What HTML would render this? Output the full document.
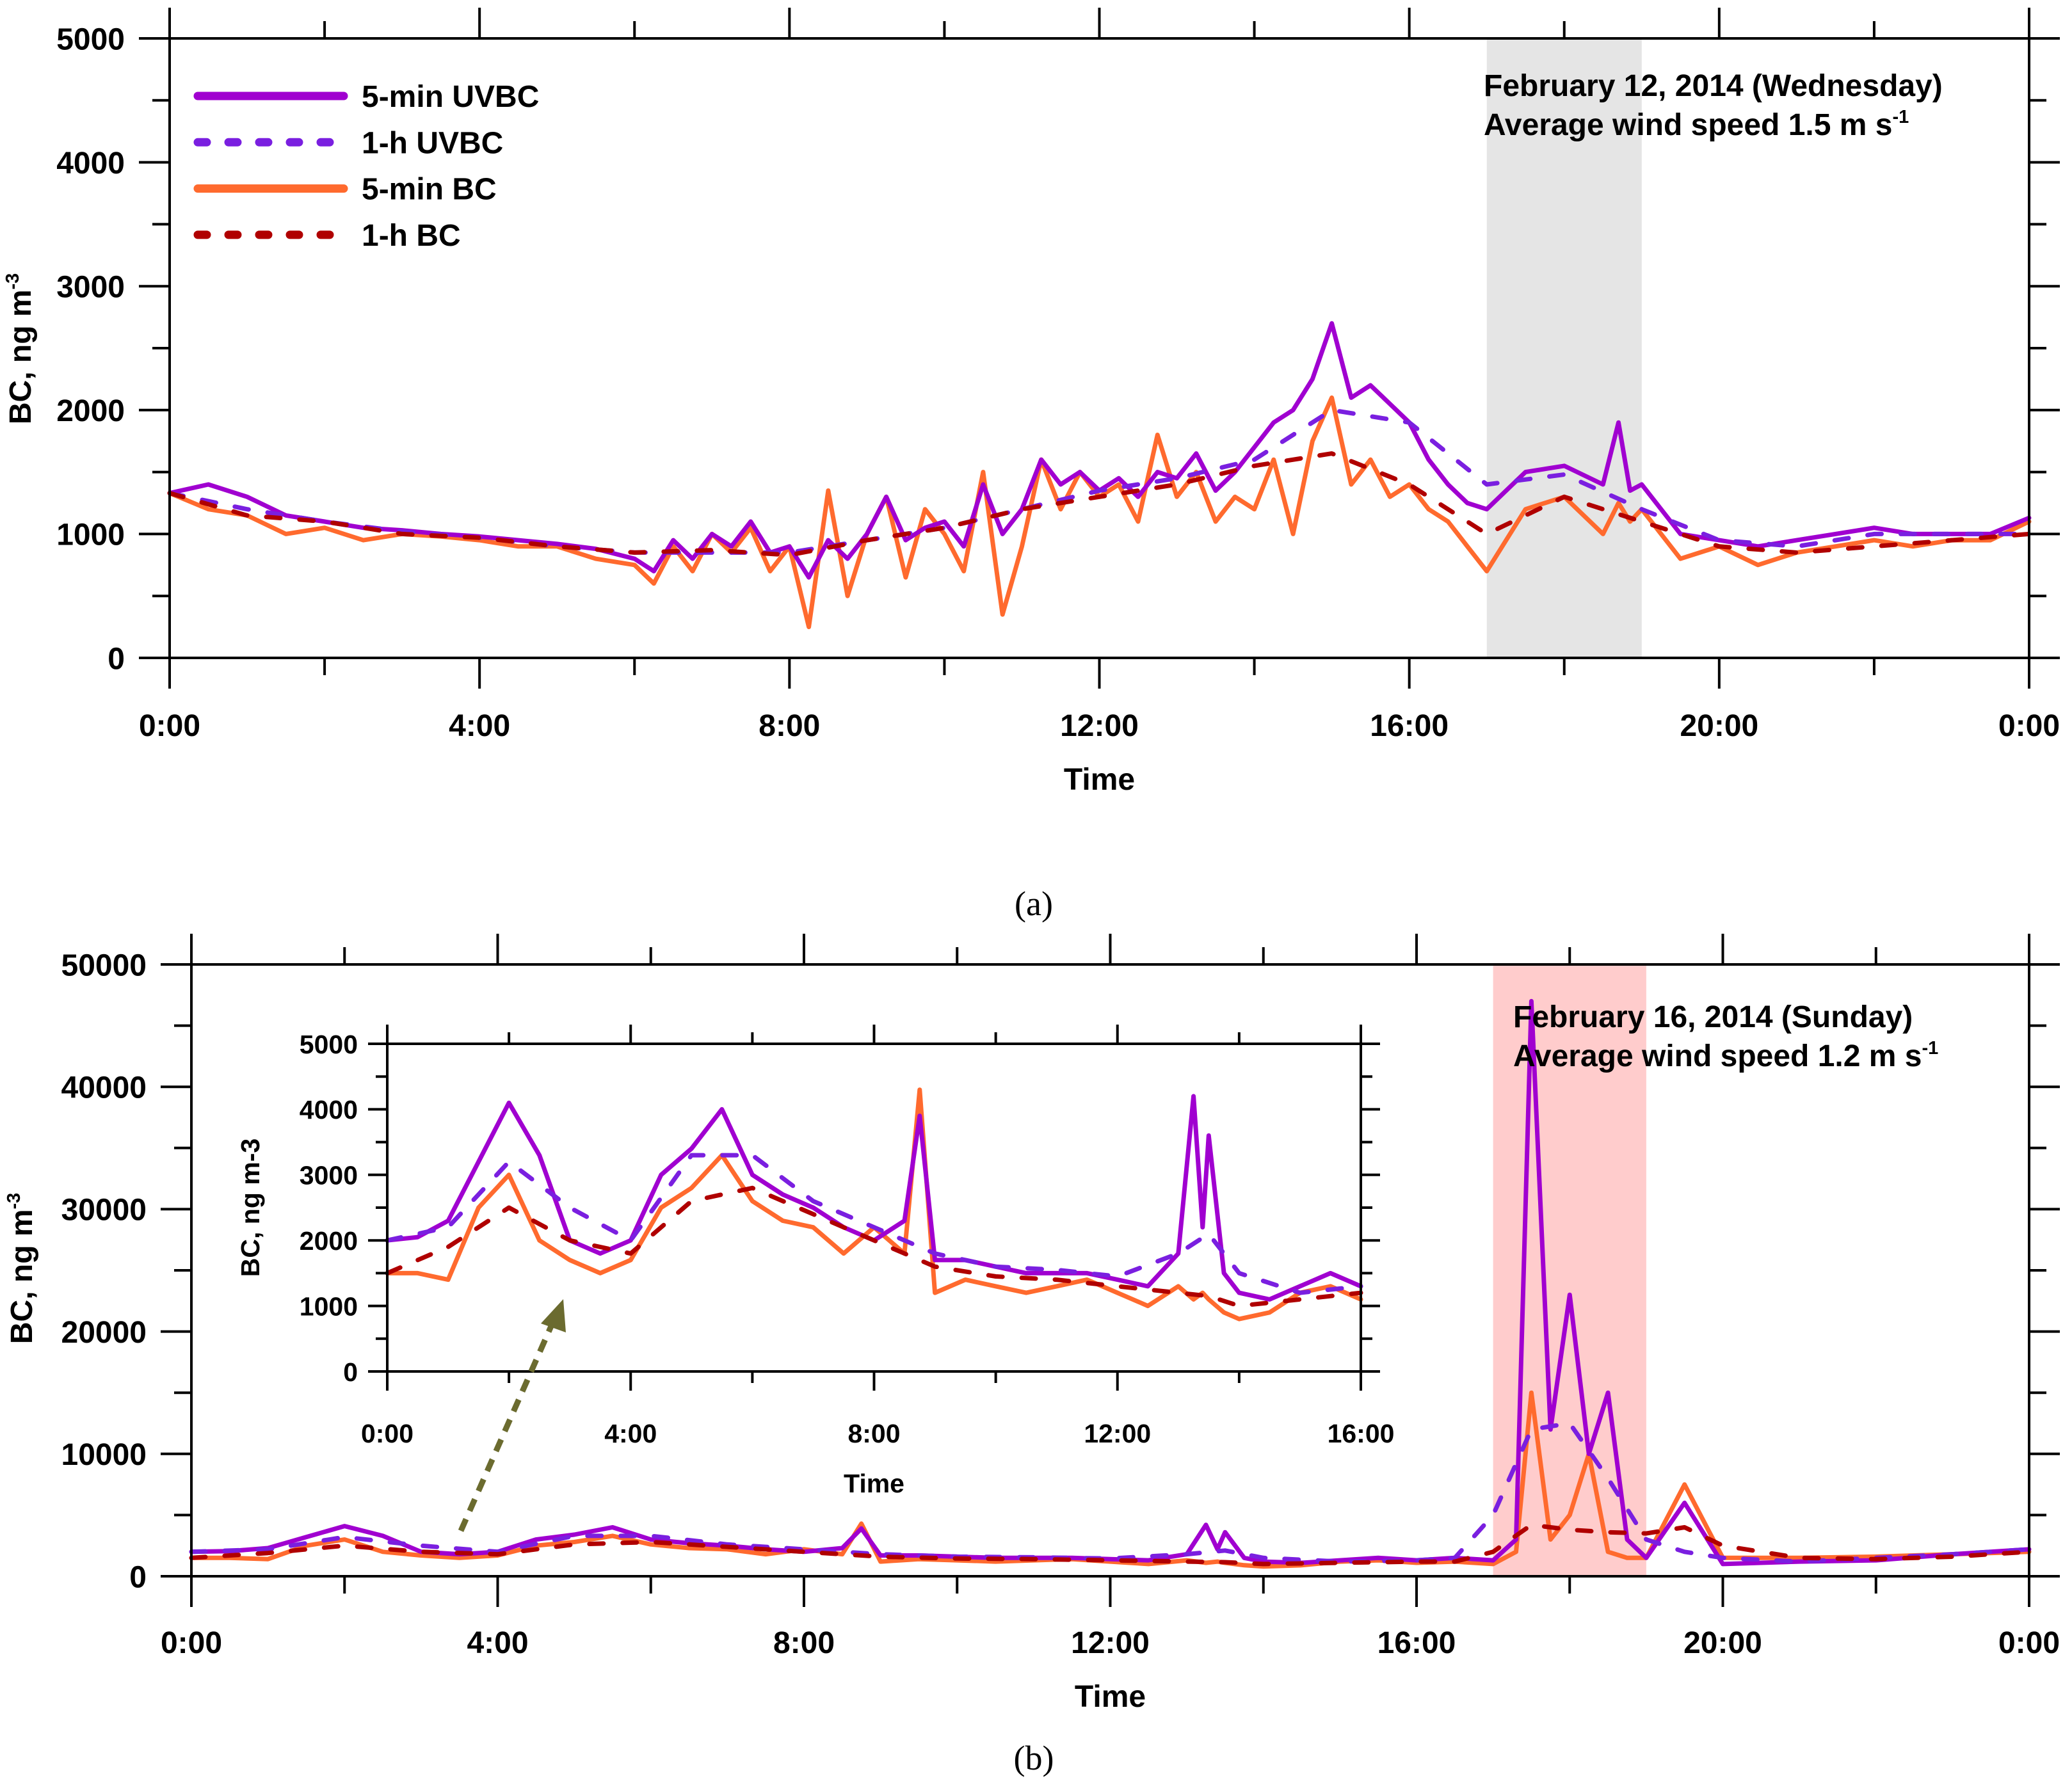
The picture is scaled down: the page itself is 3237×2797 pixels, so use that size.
<!DOCTYPE html>
<html><head><meta charset="utf-8"><style>
body{margin:0;background:#fff}
svg{display:block}
text{font-family:"Liberation Sans",Arial,sans-serif;font-weight:bold;fill:#000}
</style></head><body>
<svg id="chart" width="3237" height="2797" viewBox="0 0 3237 2797" xmlns="http://www.w3.org/2000/svg"></svg>
<script>
// ---------- Panel (a) data ----------
const aT5 = [0,0.5,1,1.5,2,2.5,3,3.5,4,4.5,5,5.5,
 6,6.25,6.5,6.75,7,7.25,7.5,7.75,8,8.25,8.5,8.75,9,9.25,9.5,9.75,10,10.25,10.5,10.75,11,11.25,11.5,11.75,12,12.25,12.5,12.75,13,13.25,13.5,13.75,14,14.25,14.5,14.75,15,15.25,15.5,15.75,16,16.25,16.5,16.75,17,
 17.5,18,18.5,18.7,18.85,19,19.5,20,20.5,21,21.5,22,22.5,23,23.5,24];
const aUV5 = [1330,1400,1300,1150,1100,1050,1030,1000,980,950,920,880,
 800,700,950,800,1000,900,1100,850,900,650,950,800,1000,1300,950,1050,1100,900,1400,1000,1200,1600,1400,1500,1350,1450,1300,1500,1450,1650,1350,1500,1700,1900,2000,2250,2700,2100,2200,2050,1900,1600,1400,1250,1200,
 1500,1550,1400,1900,1350,1400,1000,950,900,950,1000,1050,1000,1000,1000,1130];
const aBC5 = [1330,1200,1150,1000,1050,950,1000,980,950,900,900,800,
 750,600,900,700,1000,850,1050,700,900,250,1350,500,1000,1300,650,1200,1000,700,1500,350,900,1600,1200,1500,1300,1400,1100,1800,1300,1500,1100,1300,1200,1600,1000,1750,2100,1400,1600,1300,1400,1200,1100,900,700,
 1200,1300,1000,1250,1100,1200,800,900,750,850,900,950,900,950,950,1100];
const aHT = [0,1,2,3,4,5,6,7,8,9,10,11,12,13,14,15,16,17,18,19,20,21,22,23,24];
const aUVh = [1330,1200,1100,1020,970,900,850,850,850,950,1050,1200,1350,1450,1600,2000,1900,1400,1480,1200,950,900,1000,1000,1000];
const aBCh = [1330,1150,1100,1000,970,900,850,870,830,950,1050,1200,1300,1400,1550,1650,1400,1000,1300,1100,900,850,900,950,1000];
// ---------- Panel (b) data ----------
const bT5 = [0,0.5,1,1.5,2,2.5,3,3.5,4,4.5,5,5.5,6,6.5,7,7.5,8,8.5,8.75,9,9.5,10,10.5,11,11.5,12,12.5,13,13.25,13.4,13.5,13.75,14,14.5,15,15.5,16,16.5,17,17.3,17.5,17.75,18,18.25,18.5,18.75,19,19.5,20,21,22,23,24];
const bUV5 = [2000,2050,2300,3200,4100,3300,2000,1800,2000,3000,3400,4000,3000,2700,2500,2200,2000,2300,3900,1700,1700,1600,1500,1500,1500,1400,1300,1800,4200,2200,3600,1500,1200,1100,1300,1500,1300,1500,1300,3000,47000,12000,23000,10000,15000,3000,1500,6000,1000,1200,1300,1800,2200];
const bBC5 = [1500,1500,1400,2500,3000,2000,1700,1500,1700,2500,2800,3300,2600,2300,2200,1800,2200,1800,4300,1200,1400,1300,1200,1300,1400,1200,1000,1300,1100,1200,1100,900,800,900,1200,1300,1100,1200,1000,2000,15000,3000,5000,10000,2000,1500,1500,7500,1500,1500,1600,1800,2000];
const bHT = [0,1,2,3,4,5,6,7,8,9,10,11,12,13,13.5,14,15,16,16.5,17,17.5,18,18.5,19,19.5,20,21,22,23,24];
const bUVh = [2000,2200,3200,2500,2000,3300,3300,2600,2200,1800,1600,1550,1450,1800,2100,1500,1200,1300,1500,5000,12000,12500,8000,3000,2000,1500,1200,1500,1800,2200];
const bBCh = [1500,1900,2500,2000,1800,2600,2800,2400,2000,1600,1450,1400,1300,1200,1150,1000,1100,1200,1200,2000,4200,3800,3600,3500,4000,2500,1500,1400,1600,2000];
const xLabels = ['0:00','4:00','8:00','12:00','16:00','20:00','0:00'];
const insetXLabels = ['0:00','4:00','8:00','12:00','16:00'];

const NS='http://www.w3.org/2000/svg';
const svg=document.getElementById('chart');
function el(tag,attrs,parent,txt){const e=document.createElementNS(NS,tag);for(const k in attrs)e.setAttribute(k,attrs[k]);if(txt!==undefined)e.textContent=txt;(parent||svg).appendChild(e);return e;}

const COL={uv5:'#a000d0',uvh:'#7a1fe0',bc5:'#ff6a2e',bch:'#b00000'};

function panel(name,L,R,T,B,xmax,ymax,ystep,fs,opts){
  const g=el('g',{},svg);
  
  
  const sx=t=>L+(R-L)*t/xmax, sy=v=>B-(B-T)*v/ymax;
  if(opts.bg) el('rect',{x:L,y:T,width:R-L,height:B-T,fill:'#fff'},g);
  if(opts.shade){const s=el('rect',{x:sx(17),y:T,width:sx(19)-sx(17),height:B-T,fill:opts.shade},g);
    
    }
  function line(ts,vs,col,dash,nm){
    let d='';for(let i=0;i<ts.length;i++){if(ts[i]>xmax)break;d+=(i?'L':'M')+sx(ts[i]).toFixed(1)+','+sy(Math.min(vs[i],ymax*1.02)).toFixed(1);}
    const p=el('path',{d:d,fill:'none',stroke:col,'stroke-width':opts.lw,'stroke-linejoin':'round','stroke-linecap':'round'},g);
    if(dash)p.setAttribute('stroke-dasharray',dash);
    
    
  }
  const dash=opts.dash;
  line(opts.s.t5,opts.s.bc5,COL.bc5,null,'series-5min-bc');
  line(opts.s.t5,opts.s.uv5,COL.uv5,null,'series-5min-uvbc');
  line(opts.s.th,opts.s.uvh,COL.uvh,dash,'series-1h-uvbc');
  line(opts.s.th,opts.s.bch,COL.bch,dash,'series-1h-bc');
  el('rect',{x:L,y:T,width:R-L,height:B-T,fill:'none',stroke:'#000','stroke-width':opts.aw},g);
  const mj=opts.mj,mn=opts.mn;
  for(let v=0;v<=ymax+1e-6;v+=ystep/2){
    const major=Math.abs(v/ystep-Math.round(v/ystep))<1e-6, len=major?mj:mn, y=sy(v);
    el('line',{x1:L-len,y1:y,x2:L,y2:y,stroke:'#000','stroke-width':opts.aw},g);
    el('line',{x1:R,y1:y,x2:R+len,y2:y,stroke:'#000','stroke-width':opts.aw},g);
    if(major){const t=el('text',{x:L-opts.ylx,y:y+fs*0.36,'font-size':fs,'text-anchor':'end'},g,String(Math.round(v)));
      
      }
  }
  for(let h=0;h<=xmax;h+=2){
    const major=h%4===0,len=major?mj:mn,x=sx(h);
    el('line',{x1:x,y1:B,x2:x,y2:B+len,stroke:'#000','stroke-width':opts.aw},g);
    el('line',{x1:x,y1:T-len,x2:x,y2:T,stroke:'#000','stroke-width':opts.aw},g);
    if(major){const t=el('text',{x:x,y:opts.xly,'font-size':fs,'text-anchor':'middle'},g,opts.xl[h/4]);
      
      }
  }
  const xt=el('text',{x:(L+R)/2,y:opts.xty,'font-size':fs,'text-anchor':'middle'},g,'Time');
  
  
  const cy=opts.ytc, yx=opts.ytx;
  const yt=el('text',{x:yx,y:cy,'font-size':fs,'text-anchor':'middle',transform:`rotate(-90 ${yx} ${cy})`},g);
  
  
  yt.appendChild(document.createTextNode('BC, ng m'));
  el('tspan',{'font-size':opts.supExp?fs*0.6:fs,dy:opts.supExp?-fs*0.4:0},yt,'-3');
  return {sx,sy,g};
}

panel('panel-a',265,3170,60,1028,24,5000,1000,48,{lw:7,aw:4,mj:48,mn:27,ylx:70,xly:1150,xty:1234,ytc:545,ytx:48,supExp:true,
  dash:'22 30',shade:'#e5e5e5',xl:xLabels,s:{t5:aT5,uv5:aUV5,bc5:aBC5,th:aHT,uvh:aUVh,bch:aBCh}});
panel('panel-b',299,3170,1507,2463,24,50000,10000,48,{lw:7,aw:4,mj:48,mn:27,ylx:70,xly:2583,xty:2667,ytc:1982,ytx:50,supExp:true,
  dash:'22 30',shade:'#ffcccc',xl:xLabels,s:{t5:bT5,uv5:bUV5,bc5:bBC5,th:bHT,uvh:bUVh,bch:bBCh}});

const leg=el('g',{},svg);


[['5-min UVBC',COL.uv5,null],['1-h UVBC',COL.uvh,'14 34'],['5-min BC',COL.bc5,null],['1-h BC',COL.bch,'14 34']].forEach((r,i)=>{
  const y=150+i*72.3;
  const e=el('g',{},leg);
  
  
  const l=el('line',{x1:309,y1:y,x2:537,y2:y,stroke:r[1],'stroke-width':13,'stroke-linecap':'round'},e);
  if(r[2])l.setAttribute('stroke-dasharray',r[2]);
  el('text',{x:565,y:y+17,'font-size':48},e,r[0]);
});

function ann(x,y1,l1,l2,name){const g=el('g',{},svg);
  
  
  el('text',{x:x,y:y1,'font-size':48},g,l1);
  const t=el('text',{x:x,y:y1+61,'font-size':48},g,l2);
  el('tspan',{'font-size':29,dy:-19},t,'-1');}
ann(2318,150,'February 12, 2014 (Wednesday)','Average wind speed 1.5 m s','annotation-a');
ann(2364,1605,'February 16, 2014 (Sunday)','Average wind speed 1.2 m s','annotation-b');

const ca=el('text',{x:1615,y:1430,'font-size':54,'text-anchor':'middle',style:'font-family:"Liberation Serif",serif;font-weight:normal'},svg,'(a)');


const cb=el('text',{x:1615,y:2765,'font-size':54,'text-anchor':'middle',style:'font-family:"Liberation Serif",serif;font-weight:normal'},svg,'(b)');



panel('inset-chart',605,2126,1631,2143,16,5000,1000,41,{bg:true,lw:7,aw:4,mj:30,mn:18,ylx:46,xly:2254,xty:2332,ytc:1887,ytx:405,supExp:false,
  dash:'22 30',xl:insetXLabels,s:{t5:bT5,uv5:bUV5,bc5:bBC5,th:bHT,uvh:bUVh,bch:bBCh}});

const ar=el('g',{},svg);


el('line',{x1:720,y1:2392,x2:862,y2:2070,stroke:'#6b6b2f','stroke-width':9,'stroke-dasharray':'20 14'},ar);
el('polygon',{points:'880,2030 845,2068 884,2082',fill:'#6b6b2f'},ar);
</script>
</body></html>
